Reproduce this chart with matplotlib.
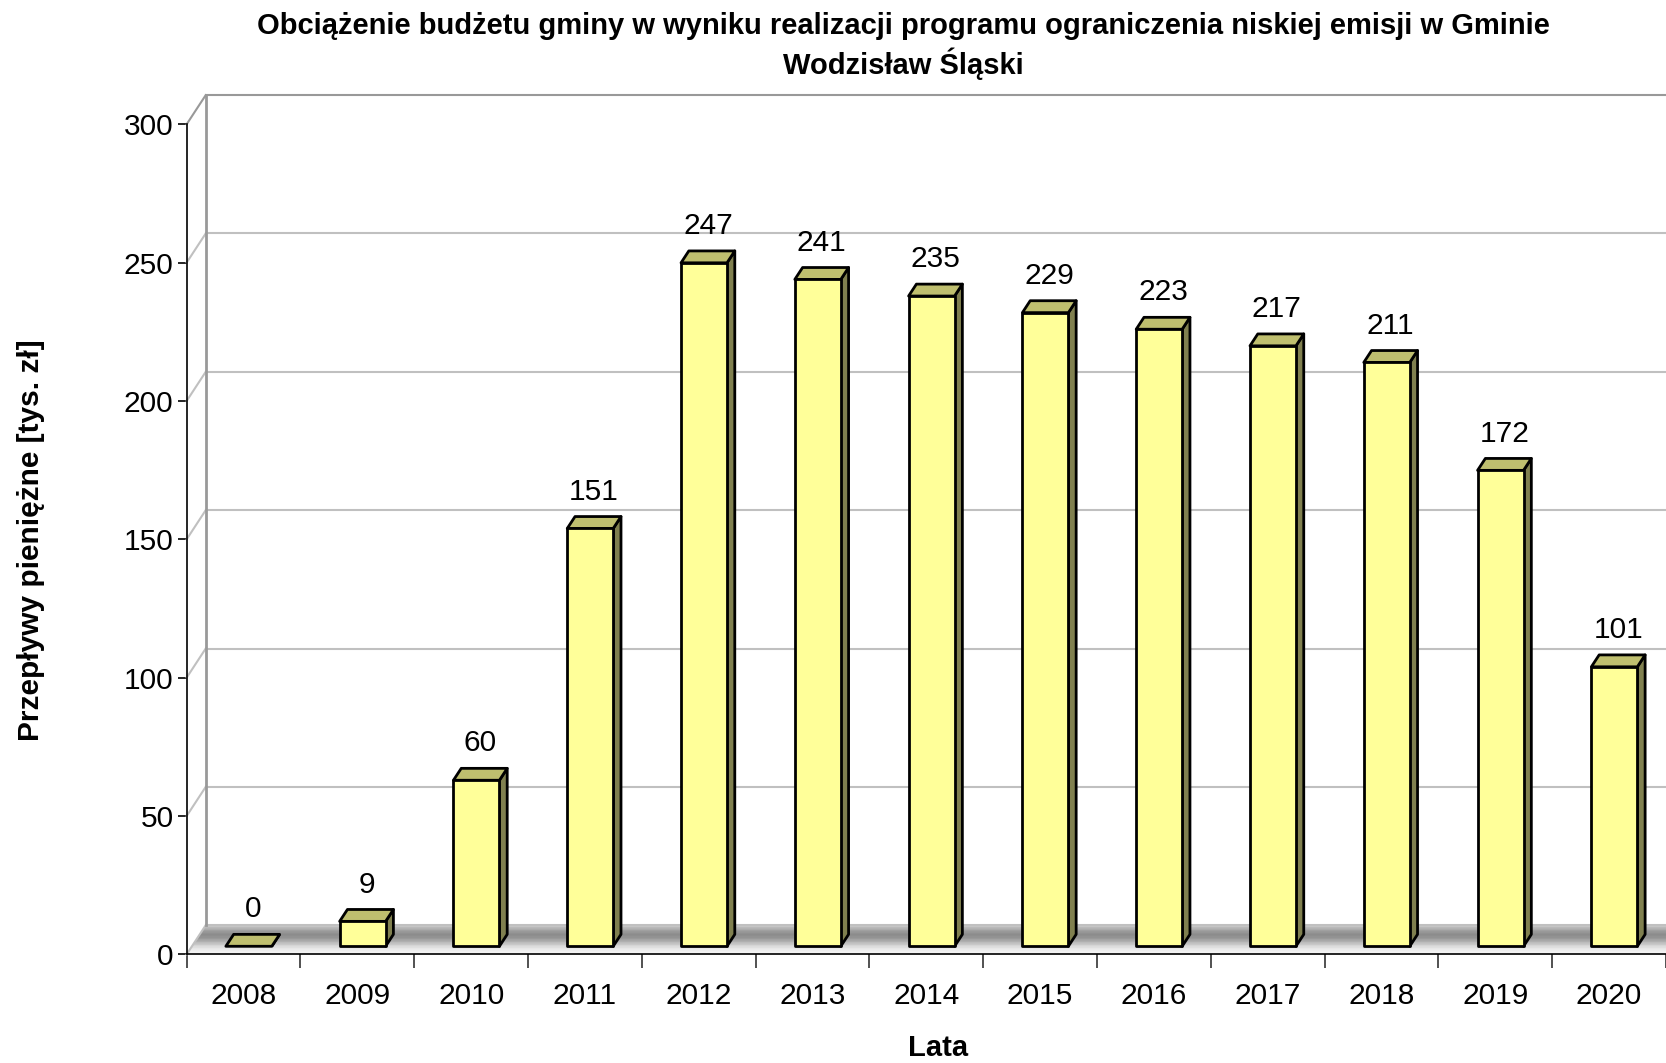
import numpy as np
import matplotlib
matplotlib.use('Agg')
import matplotlib.pyplot as plt
from matplotlib.patches import Polygon
from matplotlib import rcParams

rcParams['font.family'] = ['Liberation Sans', 'DejaVu Sans']

# dane
lata = ['2008', '2009', '2010', '2011', '2012', '2013', '2014',
        '2015', '2016', '2017', '2018', '2019', '2020']
wartosci = [0, 9, 60, 151, 247, 241, 235, 229, 223, 217, 211, 172, 101]
yticks = [0, 50, 100, 150, 200, 250, 300]

tytul = ('Obciążenie budżetu gminy w wyniku realizacji programu ograniczenia niskiej emisji w Gminie\n'
         'Wodzisław Śląski')

# kolory słupków (przód, góra, bok)
c_front = '#FFFF99'
c_top = '#BFBF6F'
c_side = '#80804F'

# efekt 3D - przesunięcie głębi w jednostkach danych
DX, DY = 0.167, 10.5
d0, bd = 0.276, 0.41     # początek i głębokość słupka (ułamek głębi)
bw = 0.404               # szerokość słupka
n = len(lata)
fs = 21.5
narrow = ['Liberation Sans Narrow', 'Liberation Sans']

fig = plt.figure(figsize=(16.66, 10.63), dpi=100)
ax = fig.add_axes([186.7 / 1666, 1 - 954.3 / 1063, 1 - 186.7 / 1666, 863 / 1063])
ytop = 863 / 2.767
ax.set_xlim(0, n)
ax.set_ylim(0, ytop)

# podłoga z gradientem
grad = np.array([0.95, 0.92, 0.86, 0.76, 0.66, 0.58, 0.55, 0.60, 0.70, 0.80]).reshape(-1, 1)
floor = Polygon([(0, 0), (n, 0), (n + DX, DY), (DX, DY)], closed=True,
                facecolor='none', edgecolor='none')
ax.add_patch(floor)
im = ax.imshow(grad, cmap='gray', vmin=0, vmax=1, aspect='auto',
               extent=(0, n + DX, 0, DY), origin='lower', zorder=1)
im.set_clip_path(floor)

# siatka: ściana boczna i tylna
for v in yticks:
    col = '#999999' if v == 300 else '#c0c0c0'
    ax.plot([0, DX], [v, v + DY], color=col, lw=1.5, zorder=2, clip_on=False)
    ax.plot([DX, n + 1], [v + DY, v + DY], color=col, lw=1.5, zorder=2, clip_on=False)
ax.plot([DX, DX], [DY, yticks[-1] + DY], color='#999999', lw=2, zorder=2)

# słupki
for i, v in enumerate(wartosci):
    c = i + 0.5 + d0 * DX
    x0, x1 = c - bw / 2, c + bw / 2
    y0 = d0 * DY
    y1 = y0 + v
    ox, oy = bd * DX, bd * DY
    side = Polygon([(x1, y0), (x1 + ox, y0 + oy), (x1 + ox, y1 + oy), (x1, y1)],
                   facecolor=c_side, edgecolor='black', lw=2, joinstyle='round', zorder=3)
    top = Polygon([(x0, y1), (x1, y1), (x1 + ox, y1 + oy), (x0 + ox, y1 + oy)],
                  facecolor=c_top, edgecolor='black', lw=2, joinstyle='round', zorder=3)
    ax.add_patch(side)
    ax.add_patch(top)
    if v > 0:
        front = Polygon([(x0, y0), (x1, y0), (x1, y1), (x0, y1)],
                        facecolor=c_front, edgecolor='black', lw=2, joinstyle='round', zorder=4)
        ax.add_patch(front)
    ax.text(c + ox / 2, y1 + oy + 6.1, str(v), ha='center', va='baseline',
            fontsize=fs, zorder=5)

# osie
for s in ['top', 'right']:
    ax.spines[s].set_visible(False)
ax.spines['left'].set_bounds(0, 300)
ax.spines['left'].set_linewidth(1.2)
ax.spines['bottom'].set_linewidth(1.2)
ax.spines['bottom'].set_zorder(6)
ax.set_yticks(yticks)
ax.tick_params(axis='y', length=6.5, width=1.2, labelsize=fs, pad=3)
ax.set_xticks(np.arange(n + 1))
ax.set_xticklabels([])
ax.set_xticks(np.arange(n) + 0.5, minor=True)
ax.set_xticklabels(lata, minor=True)
ax.tick_params(axis='x', which='major', length=10, width=1.2, color='#333333')
ax.tick_params(axis='x', which='minor', length=0, labelsize=fs, pad=20)

fig.text(938 / 1666, 1 - 1048 / 1063, 'Lata', ha='center', va='center',
         fontsize=21, fontweight='bold', family=narrow)
fig.text(31 / 1666, 1 - 540 / 1063, 'Przepływy pieniężne [tys. zł]', ha='center', va='center',
         rotation=90, fontsize=21.5, fontweight='bold', family=narrow)
fig.text(903 / 1666, 1 - 46 / 1063, tytul, ha='center', va='center', fontsize=21,
         fontweight='bold', linespacing=1.3, family=narrow)

fig.savefig('out.png', dpi=100)
